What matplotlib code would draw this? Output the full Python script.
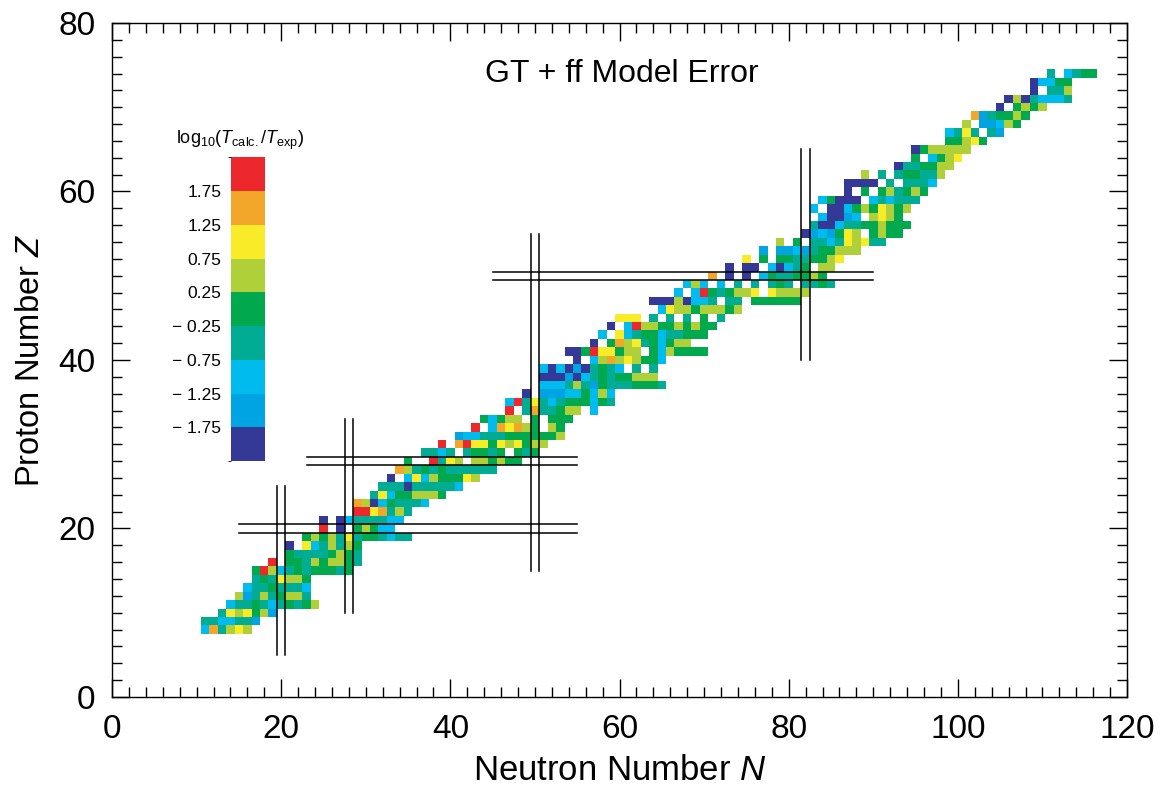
import numpy as np
import matplotlib
matplotlib.use("Agg")
import matplotlib.pyplot as plt
from matplotlib.colors import ListedColormap, BoundaryNorm
from matplotlib.ticker import MultipleLocator

plt.rcParams['font.family'] = ['Liberation Sans', 'DejaVu Sans']
plt.rcParams['mathtext.fontset'] = 'custom'
plt.rcParams['mathtext.rm'] = 'Liberation Sans'
plt.rcParams['mathtext.it'] = 'Liberation Sans:italic'

# бины log10(Tcalc/Texp) и их цвета (снизу вверх)
bin_edges = [-1.75, -1.25, -0.75, -0.25, 0.25, 0.75, 1.25, 1.75]
bin_colors = ['#343896', '#00A4E2', '#00BCEE', '#00AC94', '#00A84E',
              '#B0D03A', '#F8EC28', '#F2A62A', '#EC282C']
# буква ячейки -> значение внутри бина
code_value = {'D': -2.0, 'B': -1.5, 'C': -1.0, 'T': -0.5, 'G': 0.0,
              'L': 0.5, 'Y': 1.0, 'O': 1.5, 'R': 2.0}

# строки карты: Z, первое N, коды ячеек ('.' = нет данных)
row_z = [8, 9, 10, 11, 12, 13, 14, 15, 16, 17, 18, 19, 20, 21, 22, 23, 24, 25,
         26, 27, 28, 29, 30, 31, 32, 33, 34, 35, 36, 37, 38, 39, 40, 41, 42, 43,
         44, 45, 46, 47, 48, 49, 50, 51, 52, 53, 54, 55, 56, 57, 58, 59, 60, 61,
         62, 63, 64, 65, 66, 67, 68, 69, 70, 71, 72, 73, 74]
row_n0 = [11, 11, 13, 14, 15, 16, 17, 17, 19, 21, 21, 23, 25, 25, 29, 29, 31, 32,
          33, 34, 35, 37, 39, 41, 43, 44, 47, 47, 49, 51, 51, 51, 55, 54, 57, 58,
          59, 60, 65, 64, 67, 68, 71, 73, 75, 77, 79, 82, 83, 84, 83, 84, 87, 87,
          89, 93, 95, 95, 99, 99, 101, 102, 105, 106, 109, 109, 111]
row_codes = [
    "COTLYL",
    "TTCCTTB",
    "TYLYGLB",
    "CTTGTCTGTGL",
    "LBTLTGLLT",
    "CTTGTTTC",
    "TGTYLLG",
    "GRLCTGTGGGTG",
    "R.GGTLGLLGT",
    "GTTTTGLGT",
    "D.YCTLTLG",
    "GLGLTYTGGTCTT",
    "R.D.GLGCC",
    "D.DCTTTTCC",
    "RRYOTLT",
    "OLDCGTTTC",
    "TYCGGLLLG",
    "TTTDTTTTTC",
    "D.CYCLGGGYL",
    "OLTGTGTTTTTT",
    "G..RTYL.LLGLGG",
    "TTCT.TGGTG.GTG",
    "R.ORYYGYLYGLL",
    "BCCTTTGGGGGGL",
    "R.COYOLG.LG",
    "GCGLL.G.GGG",
    "R.TOTTGLL.C",
    "CRTYTCTGGGCGT",
    "D.BBBCCGCLC",
    "CCCTLTBGTTTGGGT",
    "DDDBDCTGTGGLLL",
    "CDCDBDTGTC.T.T",
    "D.CLOLYLGGC",
    "DDGRYYGLL.GCLGGGG",
    "D.GOLYTGCGLL",
    "C.YCTGGCTTGGG",
    "D.CRLLGGLGLGG",
    "YYY.T.T.T.G.T",
    "CYLLGLLLGL",
    "DDDLDCCT.TT.GGGGGG",
    "C.CRGTGLLY.YLLLL",
    "CLC.C.T.T.TGT.TTGT",
    "O.D.D.CGTTGGLG",
    "D.DD.CDCTG.LL",
    "Y.G.GGTTGGLY",
    "B.BBCBTGGLLL",
    "L.G.TTCTYLYTT",
    "DBCBGYL.GLGG",
    "TDDCTTGGLGGG",
    "CDDBC.LYLG",
    "C.DDCGLGYLGL",
    "CGDDD.CTCTTT",
    "D.G.GLTGLG",
    "DDDD.T.TTTC",
    "L.T.TGGTTL",
    "DTTGGLL",
    "G.CGLY",
    "DGLLLLL",
    "GGLYG",
    "CTYT.TB",
    "L.BBCLG",
    "OBTGGLG",
    "D.GLGL",
    "DLDTCCCT",
    "D.TTL",
    "DCCGG",
    "T.CTGG",
]

# магические числа: горизонтальные (Z, N от, N до) и вертикальные (N, Z от, Z до)
magic_z = [(20, 15, 55), (28, 23, 55), (50, 45, 90)]
magic_n = [(20, 5, 25), (28, 10, 33), (50, 15, 55), (82, 40, 65)]

grid = np.full((81, 121), np.nan)
for z, n0, codes in zip(row_z, row_n0, row_codes):
    for k, c in enumerate(codes):
        if c != '.':
            grid[z, n0 + k] = code_value[c]

cmap = ListedColormap(bin_colors)
norm = BoundaryNorm([-2.25] + bin_edges + [2.25], cmap.N)

fig = plt.figure(figsize=(11.62, 7.95), dpi=100)
ax = fig.add_axes([0.0964, 0.1233, 0.8735, 0.8478])

edges_n = np.arange(-0.5, 121, 1)
edges_z = np.arange(-0.5, 81, 1)
mesh = ax.pcolormesh(edges_n, edges_z, np.ma.masked_invalid(grid),
                     cmap=cmap, norm=norm, shading='flat')

for z, a, b in magic_z:
    ax.plot([a, b], [z - 0.5, z - 0.5], color='black', lw=1.1)
    ax.plot([a, b], [z + 0.5, z + 0.5], color='black', lw=1.1)
for n, a, b in magic_n:
    ax.plot([n - 0.5, n - 0.5], [a, b], color='black', lw=1.1)
    ax.plot([n + 0.5, n + 0.5], [a, b], color='black', lw=1.1)

ax.set_xlim(0, 120)
ax.set_ylim(0, 80)
ax.xaxis.set_major_locator(MultipleLocator(20))
ax.xaxis.set_minor_locator(MultipleLocator(2))
ax.yaxis.set_major_locator(MultipleLocator(20))
ax.yaxis.set_minor_locator(MultipleLocator(2))
ax.tick_params(which='both', direction='in', top=True, right=True, width=1.0)
ax.tick_params(which='major', length=13, labelsize=24, pad=12)
ax.tick_params(which='minor', length=7.5)
for sp in ax.spines.values():
    sp.set_linewidth(1.0)

ax.set_xlabel("Neutron Number $N$", fontsize=25, labelpad=7)
ax.set_ylabel("Proton Number $Z$", fontsize=23.5, labelpad=9)
ax.text(60.3, 73.0, "GT + ff Model Error", fontsize=23, ha='center', va='baseline')

# цветовая шкала
cax = fig.add_axes([0.1988, 0.420, 0.0293, 0.382])
cb = fig.colorbar(mesh, cax=cax, ticks=bin_edges)
cb.outline.set_visible(False)
cax.yaxis.set_ticks_position('left')
cax.tick_params(length=0, labelsize=12.5, pad=7)
cb.set_ticklabels([("\u2212 %.2f" % -v) if v < 0 else "%.2f" % v for v in bin_edges])
fig.text(0.2065, 0.824, "log$_{10}$($T_{\\rm calc.}$/$T_{\\rm exp}$)",
         fontsize=13, ha='center', va='center')

fig.savefig("out.png", dpi=100)
